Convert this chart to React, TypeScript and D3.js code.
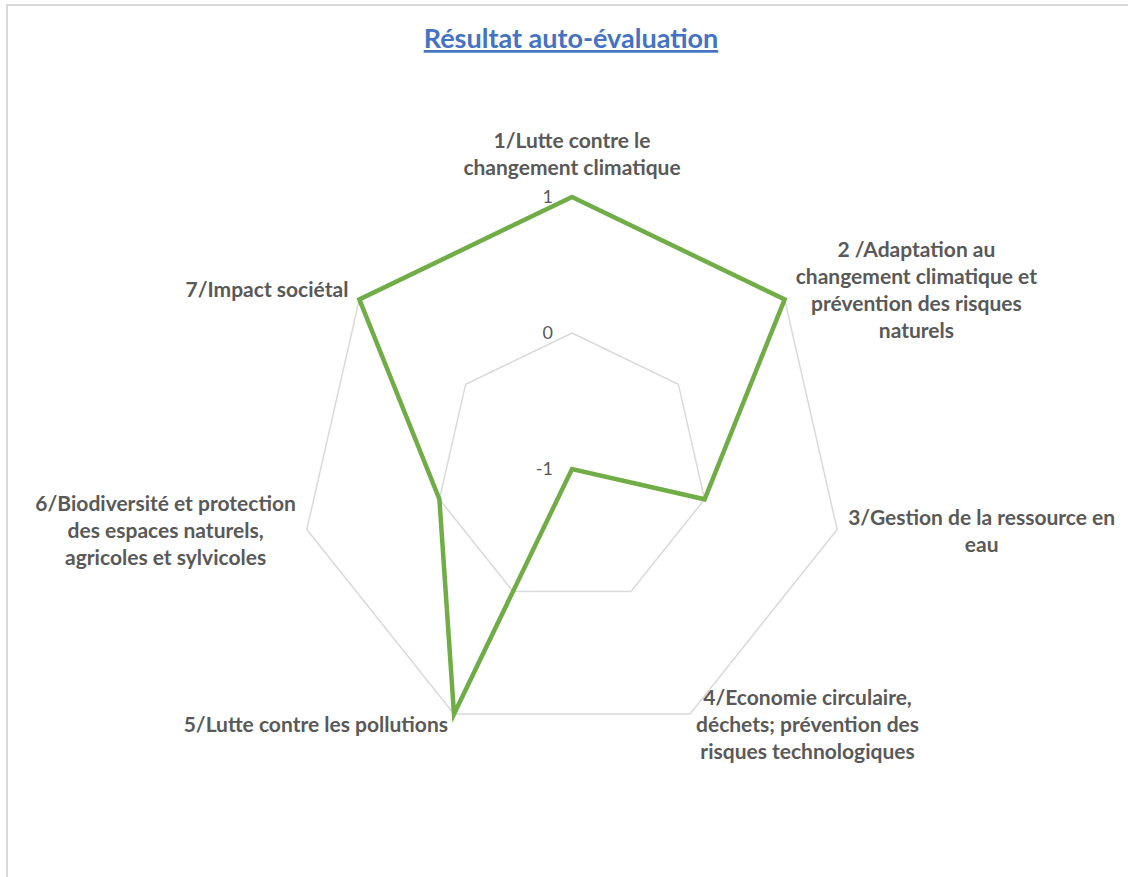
import React, { useEffect, useRef } from "react";
import * as d3 from "d3";

// Axis labels (one entry per axis, split into the lines shown in the chart)
const categories: string[][] = [
  ["1/Lutte contre le", "changement climatique"],
  ["2 /Adaptation au", "changement climatique et", "prévention des risques", "naturels"],
  ["3/Gestion de la ressource en", "eau"],
  ["4/Economie circulaire,", "déchets; prévention des", "risques technologiques"],
  ["5/Lutte contre les pollutions"],
  ["6/Biodiversité et protection", "des espaces naturels,", "agricoles et sylvicoles"],
  ["7/Impact sociétal"],
];

// Self-assessment score per axis
const values: number[] = [1, 1, 0, -1, 1, 0, 1];

const ticks: number[] = [-1, 0, 1];

const title = "Résultat auto-évaluation";

const App: React.FC = () => {
  const svgRef = useRef<SVGSVGElement>(null);

  useEffect(() => {
    if (!svgRef.current) return;
    const svg = d3.select(svgRef.current);
    svg.selectAll("*").remove();

    const width = 1128;
    const height = 877;
    const cx = 572;
    const cy = 469;
    const R = 272;
    const labelFont = "Lato, 'Noto Sans', sans-serif";
    const textColor = "#595959";

    // chart frame
    svg
      .append("rect")
      .attr("x", 7)
      .attr("y", 5)
      .attr("width", width)
      .attr("height", height)
      .attr("fill", "#fff")
      .attr("stroke", "#d9d9d9")
      .attr("stroke-width", 2);

    // title
    svg
      .append("text")
      .attr("x", 571)
      .attr("y", 48)
      .attr("text-anchor", "middle")
      .style("font-family", labelFont)
      .style("font-size", "27px")
      .style("font-weight", 700)
      .style("fill", "#4472c4")
      .style("text-decoration", "underline")
      .text(title);

    const n = categories.length;
    const angle = d3
      .scaleLinear()
      .domain([0, n])
      .range([0, 2 * Math.PI]);
    const r = d3.scaleLinear().domain([-1, 1]).range([0, R]);

    const g = svg.append("g").attr("transform", `translate(${cx},${cy})`);

    const line = d3
      .lineRadial<number>()
      .angle((_, i) => angle(i))
      .radius((d) => r(d))
      .curve(d3.curveLinearClosed);

    // grid rings
    g.selectAll(".ring")
      .data(ticks.filter((t) => t > -1))
      .enter()
      .append("path")
      .attr("class", "ring")
      .attr("d", (t) => line(d3.range(n).map(() => t)))
      .attr("fill", "none")
      .attr("stroke", "#d9d9d9")
      .attr("stroke-width", 1.5);

    // tick labels on the first axis
    g.selectAll(".tick")
      .data(ticks)
      .enter()
      .append("text")
      .attr("class", "tick")
      .attr("x", -19)
      .attr("y", (t) => -r(t))
      .attr("dy", "0.35em")
      .attr("text-anchor", "end")
      .style("font-family", labelFont)
      .style("font-size", "18px")
      .style("fill", textColor)
      .text((t) => String(t));

    // data series
    g.append("path")
      .attr("d", line(values))
      .attr("fill", "none")
      .attr("stroke", "#70ad47")
      .attr("stroke-width", 4.5)
      .attr("stroke-linejoin", "miter");

    // axis labels
    const lh = 27;
    categories.forEach((lines, i) => {
      const a = angle(i);
      const sx = Math.sin(a);
      const sy = -Math.cos(a);
      const vx = r(1) * sx;
      const vy = r(1) * sy;
      const t = g
        .append("text")
        .attr("text-anchor", "middle")
        .style("font-family", labelFont)
        .style("font-size", "21px")
        .style("font-weight", 700)
        .style("fill", textColor);
      lines.forEach((l, j) => {
        t.append("tspan").attr("x", 0).attr("y", j * lh).text(l);
      });
      const w = (t.node() as SVGTextElement).getBBox().width;
      const h = (lines.length - 1) * lh;
      const gap = sy > 0.8 ? 6 : 11;
      let x = vx;
      let y = vy - h / 2 + 6 + 13 * sy;
      if (sx > 0.1) x = vx + gap + w / 2;
      else if (sx < -0.1) x = vx - gap - w / 2;
      else y = vy - 22 - h;
      t.attr("transform", `translate(${x},${y})`);
    });
  }, []);

  return (
    <svg
      ref={svgRef}
      width={1128}
      height={877}
      style={{ position: "absolute", left: 0, top: 0, display: "block" }}
    />
  );
};

export default App;
